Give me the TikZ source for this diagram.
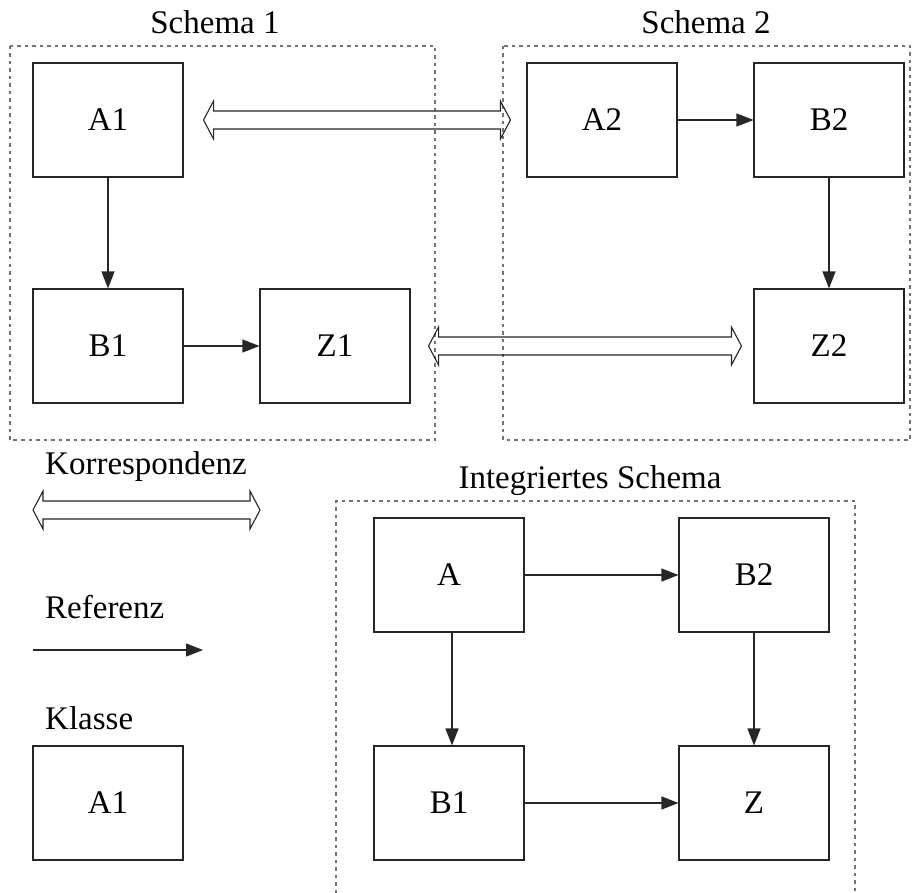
\documentclass[tikz,border=0pt]{standalone}
\usepackage{fontspec}
\setmainfont{Liberation Serif}
\usetikzlibrary{arrows.meta,calc}

\tikzset{
  klasse/.style={draw=black!85, line width=1.1pt, minimum width=150pt, minimum height=114pt,
                 inner sep=0pt, font=\fontsize{33}{39}\selectfont},
  label/.style={inner sep=0pt, font=\fontsize{33}{39}\selectfont},
  ref/.style={draw=black!85, line width=1.1pt, -{Triangle[length=17pt,width=13pt]}},
  schemabox/.style={draw=black!55, line width=1.2pt, dash pattern=on 3.5pt off 4pt},
  corr/.style={draw=black!85, line width=1.1pt, to path={
    let \p1=(\tikztostart), \p2=(\tikztotarget) in
      (\x1,\y1) -- (\x1+10pt,\y1+19pt) -- (\x1+10pt,\y1+9pt) -- (\x2-10pt,\y1+9pt)
      -- (\x2-10pt,\y1+19pt) -- (\x2,\y1) -- (\x2-10pt,\y1-19pt) -- (\x2-10pt,\y1-9pt)
      -- (\x1+10pt,\y1-9pt) -- (\x1+10pt,\y1-19pt) -- cycle}}
}

\begin{document}
\begin{tikzpicture}[x=1pt, y=-1pt]
  \useasboundingbox (0,0) rectangle (920,893);

  % schema frames
  \draw[schemabox] (10,46) rectangle (435,440);
  \draw[schemabox] (503,46) rectangle (910,440);
  \draw[schemabox] (336,893) -- (336,501) -- (855,501) -- (855,893);

  \node[label] (t1) at (215,22) {Schema 1};
  \node[label] (t2) at (706,22) {Schema 2};
  \node[label] (t3) at (590,481) {Integriertes Schema};

  % Schema 1
  \node[klasse] (A1) at (108,120) {A1};
  \node[klasse] (B1) at (108,346) {B1};
  \node[klasse] (Z1) at (335,346) {Z1};
  \draw[ref] (A1) -- (B1);
  \draw[ref] (B1) -- (Z1);

  % Schema 2
  \node[klasse] (A2) at (602,120) {A2};
  \node[klasse] (B2) at (829,120) {B2};
  \node[klasse] (Z2) at (829,346) {Z2};
  \draw[ref] (A2) -- (B2);
  \draw[ref] (B2) -- (Z2);

  % correspondences
  \draw[corr] ($(A1.east)+(20,0)$) to ($(A2.west)+(-16,0)$);
  \draw[corr] ($(Z1.east)+(18,0)$) to ($(Z2.west)+(-12,0)$);

  % integrated schema
  \node[klasse] (A) at (449,575) {A};
  \node[klasse] (IB2) at (754,575) {B2};
  \node[klasse] (IB1) at (449,803) {B1};
  \node[klasse] (Z) at (754,803) {Z};
  \draw[ref] (A) -- (IB2);
  \draw[ref] ($(A.south)+(3,0)$) -- ($(IB1.north)+(3,0)$);
  \draw[ref] (IB2) -- (Z);
  \draw[ref] (IB1) -- (Z);

  % legend
  \node[label, anchor=west] (lk) at (45,467) {Korrespondenz};
  \coordinate (lk1) at (33,510);
  \coordinate (lk2) at (260,510);
  \draw[corr] (lk1) to (lk2);

  \node[label, anchor=west] (lr) at (45,607) {Referenz};
  \coordinate (lr1) at (33,650);
  \coordinate (lr2) at (203,650);
  \draw[ref] (lr1) -- (lr2);

  \node[label, anchor=west] (lc) at (45,718) {Klasse};
  \node[klasse] (L) at (108,803) {A1};
\end{tikzpicture}
\end{document}
